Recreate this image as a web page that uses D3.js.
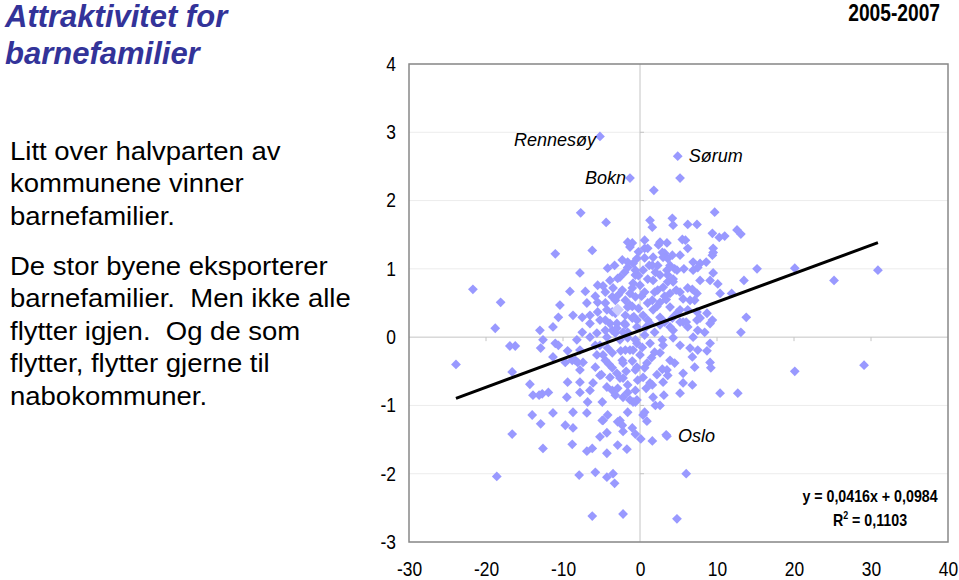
<!DOCTYPE html>
<html>
<head>
<meta charset="utf-8">
<script src="https://cdn.jsdelivr.net/npm/d3@7"></script>
<style>
  body { margin: 0; background: #fff; }
  svg { display: block; font-family: "Liberation Sans", Arial, sans-serif; }
</style>
</head>
<body>
<svg width="959" height="580"></svg>
<script>
// ---- data ----
var xTicks = [-30, -20, -10, 0, 10, 20, 30, 40];
var yTicks = [-3, -2, -1, 0, 1, 2, 3, 4];

// trend line from the equation shown in the chart
var trendSlope = 0.0416, trendIntercept = 0.0984;
var eqText = "y = 0,0416x + 0,0984";
var r2Text = "0,1103";

var namedNames = ["Rennesøy", "Bokn", "Sørum", "Oslo"];
var namedX = [-5.2, -1.3, 4.9, 3.5];
var namedY = [2.94, 2.33, 2.65, -1.45];
var namedSide = ["end", "end", "start", "start"];

var highlightPt = [-2.9, 0.4];

var pointsX = [
  5.2, 1.8, -7.7, -4.4, 9.7, -11.0, -21.7, -18.1, -18.8, -23.9, -16.9, -16.2, 12.6, 13.1, 15.2, 20.1, 25.2, 30.9, 13.5, 13.8,
  13.1, 20.1, 29.1, 12.7, 10.4, 9.1, 9.2, 6.0, 4.8,
  -16.6, -12.9, -12.6, -18.6, -9.7, -8.7, -8.8, -7.9, -6.9, -6.2, -5.8, -6.2, -5.2, -4.3, -4.3, -4.3, -3.5, -3.3, -2.9, -2.9,
  -2.2, -1.7, -2.2, -0.6, 0.1, 0.9, 1.6, 3.4, -4.8,
  3.5, 5.5, 5.9, 9.4, 10.3, 11.0, 9.5, 9.4, 5.2, 6.9, 7.8, 3.2, 5.7, 9.5, 9.1, 10.1, 10.4, 11.9, 7.4, 6.8, 5.6, 4.3, 4.5,
  8.7, 9.4, 8.4, 9.1, 6.9, 8.7, 6.8, 7.1, 5.6, 6.8, 3.1, 5.2, 3.0, 4.5, 3.5, 4.3, 3.9, 7.4, 5.6,
  6.5, 5.6, 1.7, -0.4, 0.4, 2.9, 1.3, 0.4, -0.6, -0.9, 0.9, 2.6, 3.9, 3.0, 0.0, -0.9, -0.4,
  -11.0, -9.4, -8.4, -11.3, -7.4, -7.8, -9.4, -11.9, -9.5, -7.8, -6.1, -6.8, -4.9, -4.3, -3.6, -2.9, -2.2, -1.3, -3.0, -3.9,
  -2.2, -1.6, -11.3, -8.7, -6.9, -4.9, -4.2, -2.6, -2.3, -1.0, -0.6, -12.7,
  -8.2, -7.5, -6.5, -5.2, -4.2, -3.6, -2.3, -5.6, -4.5, -5.8, -7.8, -8.8,
  -6.2, -1.6, -1.3, -2.3, -1.6, -7.8, -9.1, -7.1, -10.4, -6.9, -8.7, -7.5, -6.5, -10.6, -11.3, -5.5, -4.5, -3.9, -3.5, -2.6,
  -3.6, -4.3, -1.3, -0.9, -1.9, -5.2, -6.5, -0.4, -1.6, -0.6,
  1.3, 1.6, 4.2, 4.3, 6.2, 7.4, 0.6, 0.6, -1.0, 2.9, 3.0, 9.5, -0.4, 1.7, 2.3, 3.6, 3.9, 7.5, -0.9, 0.4, -0.6, 3.5,
  1.7, 2.3, 3.6, 4.3, 4.8, 6.2, 7.1, 0.0, 0.6, 1.9, 3.0, 3.9, 5.2, -1.0, 1.0, 2.6, 3.9, 4.8, 6.2, 7.4, 9.1, -0.2, 0.4,
  1.7, 2.6, 1.3, 3.2, 5.2, 6.2, 7.5, 4.3, -0.4,
  0.6, 1.9, 2.9, 1.3, -0.6, -1.6, -2.6, -3.6, -3.0, -1.9,
  -16.6, -14.3, -13.9, -13.1, -14.0, -13.0, -12.6, -12.9, -10.6, -9.7, -8.1, -7.8,
  -4.2, -1.6, 0.6, -0.4, -1.3, -2.2, -0.6, -1.6, -4.3, -3.2, -3.9, -3.0, -2.2, -4.5, -5.6,
  -2.0, -1.0, 0.2, -0.2, 1.0, 2.0, 1.2, -3.2, -2.0, -0.8, 0.8, 2.2, 3.4, -4.8, -5.8, -2.8, -0.2, 1.0, 2.4, -3.3,
  -2.5, -1.0, 0.3, 1.5, 2.2, -1.8, -4.0, -5.0, 0.8, 2.0,
  -5.5, -4.5, -3.2, -2.3, -1.3, -4.5, -3.6, -1.9, -1.0, -5.5, -2.9, -0.6, -1.6,
  0.6, 1.6, 2.6, 3.6, 4.7, 6.5, 7.8, 6.0, 4.2, 2.6, 1.0, 1.6, 3.2, 5.2, 7.8, 6.9, 8.6, 6.2, 2.6, 4.2,
  -5.8, -4.8, -3.6, -2.6, -1.6, -0.3, -1.9, -5.2, -6.5, -3.2, 0.6, 1.9, 3.6, 5.2, 7.5, 1.6, 2.6
];
var pointsY = [
  2.33, 2.15, 1.82, 1.68, 1.83, 1.22, 0.70, 0.51, 0.13, -0.40, -0.13, -0.13, 1.57, 1.51, 1.00, 1.01, 0.83, 0.98, 0.83, 0.29,
  0.07, -0.50, -0.41, -0.82, -0.82, -0.37, -0.45, -2.00, -2.66,
  -1.42, -1.27, -1.63, -2.04, -1.29, -1.33, -1.57, -2.02, -1.67, -1.63, -1.98, -2.62, -1.46, -1.40, -1.70, -2.05, -2.00, -2.14, -1.58, -1.24,
  -1.38, -1.64, -2.59, -1.42, -1.49, -1.23, -1.52, -1.43, -1.22,
  1.38, 1.43, 1.42, 1.52, 1.46, 1.48, 1.24, 1.20, 1.20, 1.10, 1.08, 1.23, 1.00, 0.94, 0.83, 0.78, 0.64, 0.64, 0.64, 0.70, 0.56, 0.85, 1.00,
  0.35, 0.25, 0.07, -0.09, 0.00, -0.20, -0.29, -0.44, -0.67, -0.70, -0.85, -0.82, -0.66, -0.38, -0.48, -0.01, 0.15, 0.25, 0.22,
  -0.16, -0.53, -0.88, -0.92, -1.14, -0.47, -0.67, -0.59, -0.78, -0.95, -0.38, -0.23, -0.34, -0.12, -0.26, -0.19, -0.44,
  -0.09, -0.20, -0.34, -0.29, -0.37, -0.48, -0.66, -0.81, -0.88, -0.81, -0.67, -0.95, -0.95, -0.73, -0.78, -0.75, -0.88, -0.92, -0.53, -0.59,
  -0.60, -0.70, -1.11, -1.10, -1.11, -1.22, -1.14, -1.22, -1.29, -1.33, -0.95, -0.83,
  -0.04, 0.07, 0.00, -0.12, -0.16, -0.23, -0.34, -0.26, -0.34, -0.44, -0.19, -0.34,
  1.27, 1.39, 1.32, 1.13, 1.02, 0.94, 0.67, 0.67, 0.47, 0.50, 0.32, 0.29, 0.32, 0.29, 0.15, 0.37, 0.50, 0.83, 0.72, 0.88,
  0.59, 0.40, 0.64, 0.79, 0.54, 0.25, 0.20, 0.25, 0.44, 0.59,
  1.71, 1.61, 1.74, 1.64, 1.65, 1.65, 1.42, 1.30, 1.38, 1.24, 1.17, 1.30, 1.15, 1.17, 1.05, 1.15, 1.05, 1.02, 1.08, 0.98, 0.91, 0.98,
  0.83, 0.69, 0.91, 0.81, 0.98, 0.72, 0.54, 0.76, 0.66, 0.66, 0.73, 0.64, 0.66, 0.72, 0.50, 0.51, 0.44, 0.35, 0.40, 0.37, 0.20, 0.42, 0.32,
  0.40, 0.29, 0.20, 0.22, 0.22, 0.15, 0.10, 0.10, 0.15,
  0.03, 0.07, -0.04, -0.09, -0.04, 0.07, -0.04, 0.10, 0.20, 0.32,
  -0.51, -0.69, -0.85, -0.85, -1.14, 0.10, -0.04, -0.16, -0.12, -0.37, -0.37, -0.66,
  1.01, -1.10, -1.10, -0.09, -0.19, -0.38, -0.48, -0.01, 0.00, 0.06, 0.20, 0.13, 0.07, 0.10, 0.06,
  0.95, 0.45, 0.60, 0.90, 0.85, 0.95, 1.05, 0.35, 0.20, 0.30, 0.15, 0.45, 0.55, 0.75, 0.60, 0.62, 1.25, 1.30, 1.35, 1.05,
  -0.20, -0.35, -0.15, -0.30, -0.55, -0.50, -0.40, -0.55, -0.75, -1.00,
  0.76, 0.66, 0.54, 0.69, 0.47, 0.25, 0.37, 0.18, 0.28, 0.51, 0.86, 0.98, 1.10,
  1.16, 1.05, 0.91, 0.81, 0.69, 0.54, 0.28, 0.22, 0.28, 0.18, 0.25, 0.54, 0.60, 0.40, 0.83, 0.98, 1.10, 1.30, 1.39, 1.20,
  -0.12, -0.26, -0.45, -0.60, -0.81, -0.63, -0.19, -0.56, -0.78, -0.85, -0.45, -0.22, -0.56, -0.12, -0.19, -0.70, -1.00
];

// ---- drawing ----
var svg = d3.select("svg"),
    plot = {left: 409, right: 948, top: 64, bottom: 542};

var x = d3.scaleLinear().domain([-30, 40]).range([plot.left, plot.right]);
var y = d3.scaleLinear().domain([-3, 4]).range([plot.bottom, plot.top]);

var pts = pointsX.map(function(d, i) { return [d, pointsY[i]]; });
namedX.forEach(function(d, i) { pts.push([d, namedY[i]]); });

// faint horizontal gridlines
svg.append("g")
  .selectAll("line")
  .data(yTicks.filter(function(d) { return d !== 0; }))
  .enter().append("line")
  .attr("x1", plot.left).attr("x2", plot.right)
  .attr("y1", function(d) { return y(d); })
  .attr("y2", function(d) { return y(d); })
  .attr("stroke", "#ececec")
  .attr("stroke-width", 1);

// axes through the origin
svg.append("line")
  .attr("x1", plot.left).attr("x2", plot.right)
  .attr("y1", y(0)).attr("y2", y(0))
  .attr("stroke", "#c4c4c4");
svg.append("line")
  .attr("x1", x(0)).attr("x2", x(0))
  .attr("y1", plot.top).attr("y2", plot.bottom)
  .attr("stroke", "#c4c4c4");

// small tick marks on the origin axes
svg.append("g").selectAll("line")
  .data(xTicks.filter(function(d) { return d > -30 && d < 40 && d !== 0; }))
  .enter().append("line")
  .attr("x1", function(d) { return x(d); }).attr("x2", function(d) { return x(d); })
  .attr("y1", y(0)).attr("y2", y(0) + 4)
  .attr("stroke", "#c4c4c4");
svg.append("g").selectAll("line")
  .data(yTicks.filter(function(d) { return d > -3 && d < 4 && d !== 0; }))
  .enter().append("line")
  .attr("x1", x(0)).attr("x2", x(0) + 4)
  .attr("y1", function(d) { return y(d); }).attr("y2", function(d) { return y(d); })
  .attr("stroke", "#c4c4c4");

// plot frame
svg.append("rect")
  .attr("x", plot.left).attr("y", plot.top)
  .attr("width", plot.right - plot.left).attr("height", plot.bottom - plot.top)
  .attr("fill", "none")
  .attr("stroke", "#888")
  .attr("stroke-width", 1.5);

// tick labels (placed low / left, like Excel), slightly condensed
var yAxis = svg.append("g")
  .attr("transform", "translate(" + plot.left + ",0)")
  .call(d3.axisLeft(y).tickValues(yTicks).tickSize(0).tickFormat(d3.format("d")));
var xAxis = svg.append("g")
  .attr("transform", "translate(0," + plot.bottom + ")")
  .call(d3.axisBottom(x).tickValues(xTicks).tickSize(0).tickPadding(20).tickFormat(d3.format("d")));
[yAxis, xAxis].forEach(function(a) {
  a.select(".domain").remove();
  a.attr("font-family", "'Liberation Sans', Arial, sans-serif")
   .attr("font-size", 20);
  a.selectAll("text").attr("fill", "#000")
   .text(function(d) { return d < 0 ? "-" + Math.abs(d) : d; });
});
yAxis.selectAll("text").attr("x", 0).attr("transform", "translate(-13,0) scale(0.87,1)");
xAxis.selectAll("text").attr("transform", "scale(0.87,1)");

// diamonds
var diamond = d3.symbol().type(d3.symbolSquare).size(48);
svg.append("g")
  .selectAll("path")
  .data(pts)
  .enter().append("path")
  .attr("d", diamond)
  .attr("transform", function(d) { return "translate(" + x(d[0]) + "," + y(d[1]) + ") rotate(45)"; })
  .attr("fill", "#9999ff");

svg.append("path")
  .attr("d", d3.symbol().type(d3.symbolSquare).size(80))
  .attr("transform", "translate(" + x(highlightPt[0]) + "," + y(highlightPt[1]) + ") rotate(45)")
  .attr("fill", "#ccccff");

// trend line
var ext = d3.extent(pts, function(d) { return d[0]; });
svg.append("line")
  .attr("x1", x(ext[0])).attr("y1", y(trendSlope * ext[0] + trendIntercept))
  .attr("x2", x(ext[1])).attr("y2", y(trendSlope * ext[1] + trendIntercept))
  .attr("stroke", "#000")
  .attr("stroke-width", 3);

// named municipalities
svg.append("g")
  .selectAll("text")
  .data(namedNames)
  .enter().append("text")
  .attr("x", function(d, i) { return x(namedX[i]) + (namedSide[i] === "end" ? -4 : 11); })
  .attr("y", function(d, i) { return y(namedY[i]) + (i === 0 ? 3 : 0); })
  .attr("dy", "0.35em")
  .attr("text-anchor", function(d, i) { return namedSide[i]; })
  .attr("font-size", 18)
  .attr("font-style", "italic")
  .text(function(d) { return d; });

// equation
var eq = svg.append("g")
  .attr("transform", "translate(870,0) scale(0.89,1)")
  .attr("font-weight", "bold")
  .attr("font-size", 16)
  .attr("text-anchor", "middle");
eq.append("text").attr("x", 0).attr("y", 502).text(eqText);
var r2 = eq.append("text").attr("x", 0).attr("y", 526);
r2.append("tspan").text("R");
r2.append("tspan").attr("dy", -7).attr("font-size", 10).text("2");
r2.append("tspan").attr("dy", 7).text(" = " + r2Text);

// period
svg.append("text")
  .attr("transform", "translate(940,21) scale(0.8,1)")
  .attr("text-anchor", "end")
  .attr("font-weight", "bold")
  .attr("font-size", 24)
  .text("2005-2007");

// title
var title = svg.append("text")
  .attr("font-size", 31)
  .attr("font-weight", "bold")
  .attr("font-style", "italic")
  .attr("fill", "#333399");
title.append("tspan").attr("x", 5).attr("y", 27).text("Attraktivitet for");
title.append("tspan").attr("x", 5).attr("y", 64).text("barnefamilier");

// body text
var para1 = ["Litt over halvparten av", "kommunene vinner", "barnefamilier."];
var para2 = ["De stor byene eksporterer", "barnefamilier.  Men ikke alle", "flytter igjen.  Og de som",
             "flytter, flytter gjerne til", "nabokommuner."];

function block(lines, baseY) {
  var t = svg.append("text")
    .attr("transform", "translate(10," + baseY + ") scale(1.1,1)")
    .attr("font-size", 25)
    .attr("fill", "#000")
    .style("white-space", "pre");
  lines.forEach(function(l, i) {
    t.append("tspan").attr("x", 0).attr("y", i * 32.4).text(l);
  });
}
block(para1, 160);
block(para2, 275);
</script>
</body>
</html>
